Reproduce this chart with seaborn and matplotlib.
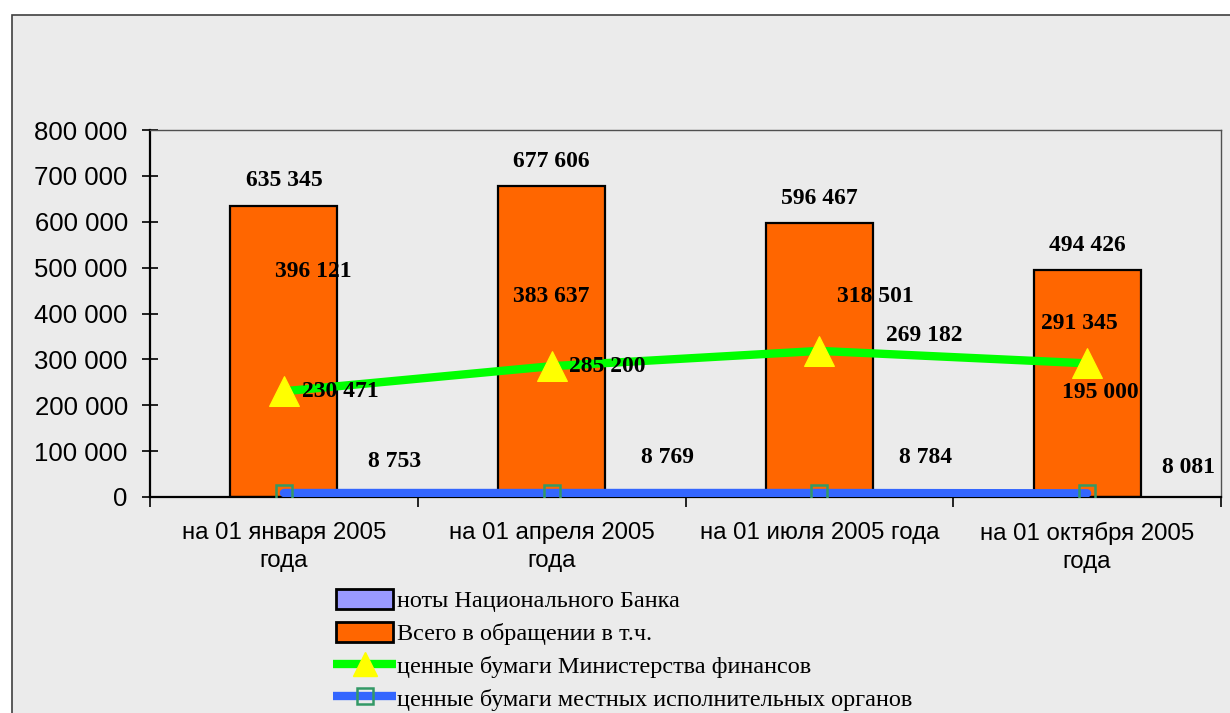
import numpy as np
import pandas as pd
import matplotlib
matplotlib.use('Agg')
import matplotlib.pyplot as plt
import seaborn as sns
from matplotlib.patches import Rectangle, Patch
from matplotlib.lines import Line2D
from matplotlib.legend_handler import HandlerPatch
from matplotlib.ticker import FuncFormatter, FixedLocator

# Data
dates = ['на 01 января 2005\nгода', 'на 01 апреля 2005\nгода',
         'на 01 июля 2005 года', 'на 01 октября 2005\nгода']
total = [635345, 677606, 596467, 494426]
notes_nb = [396121, 383637, 269182, 195000]
minfin = [230471, 285200, 318501, 291345]
local = [8753, 8769, 8784, 8081]

series_names = ['ноты Национального Банка', 'Всего в обращении в т.ч.',
                'ценные бумаги Министерства финансов',
                'ценные бумаги местных исполнительных органов']

# label offsets in pixels (dx, dy) relative to each point
total_off = [(0, 25)] * 4
notes_off = [(29, 44), (0, 25), (105, 38), (13, 15)]
minfin_off = [(56, 0), (56, 0), (56, 54), (-8, 40)]
local_off = [(111, 31), (116, 35), (106, 35), (101, 26)]

sns.set_style('white')
plt.rcParams['font.family'] = ['Liberation Sans', 'DejaVu Sans']
plt.rcParams['text.color'] = 'black'

fig = plt.figure(figsize=(12.3, 7.13), dpi=100)
fig.patch.set_facecolor('white')
# backdrop of the chart area
fig.patches.append(Rectangle((12 / 1230, -0.01), 1.02, 1 - 15 / 713 + 0.01,
                             transform=fig.transFigure, facecolor='#ebebeb',
                             edgecolor='#404040', lw=1.2, zorder=-5))

ax = fig.add_axes([150 / 1230, 1 - 497 / 713, 1071 / 1230, 367 / 713])
ax.set_facecolor('none')

df = pd.DataFrame({'date': dates, 'total': total})
sns.barplot(data=df, x='date', y='total', ax=ax, color='#FF6600',
            saturation=1, width=0.4, edgecolor='black', linewidth=1.6,
            zorder=2)

sns.lineplot(x=dates, y=minfin, ax=ax, sort=False, color='#00FF00', lw=6,
             marker='^', markersize=21, markerfacecolor='#FFFF00',
             markeredgecolor='#FFFF00', zorder=4)
sns.lineplot(x=dates, y=local, ax=ax, sort=False, color='#3366FF', lw=6,
             marker='s', markersize=12, markerfacecolor='none',
             markeredgecolor='#339966', markeredgewidth=1.8, zorder=4)

ax.set_xlim(-0.5, 3.5)
ax.set_ylim(0, 800000)
ax.set_yticks(np.arange(0, 800001, 100000))
ax.yaxis.set_major_formatter(FuncFormatter(lambda v, p: f'{int(v):,}'.replace(',', ' ')))
ax.tick_params(axis='y', direction='inout', length=12, width=1.2,
               labelsize=18.5, pad=10, colors='black', left=True)
ax.tick_params(axis='x', which='major', length=0, labelsize=17.3, pad=18,
               colors='black')
ax.xaxis.set_minor_locator(FixedLocator([-0.5, 0.5, 1.5, 2.5, 3.5]))
ax.tick_params(axis='x', which='minor', direction='out', length=7, width=1.2,
               bottom=True, color='black')
ax.set_xlabel('')
ax.set_ylabel('')
for lab in ax.get_xticklabels():
    lab.set_multialignment('center')
    lab.set_linespacing(1.35)

for side in ['left', 'bottom']:
    ax.spines[side].set_color('black')
    ax.spines[side].set_linewidth(1.6)
for side in ['top', 'right']:
    ax.spines[side].set_visible(True)
    ax.spines[side].set_color('#505050')
    ax.spines[side].set_linewidth(1.0)

lab_font = dict(family='Liberation Serif', fontweight='bold', fontsize=17,
                ha='center', va='center', color='black', zorder=6)


def put_labels(values, offsets):
    for i, (v, (dx, dy)) in enumerate(zip(values, offsets)):
        ax.annotate(f'{v:,}'.replace(',', ' '), (i, v), xytext=(dx, dy),
                    textcoords='offset pixels', **lab_font)


put_labels(total, total_off)
put_labels(notes_nb, notes_off)
put_labels(minfin, minfin_off)
put_labels(local, local_off)


def small_box(legend, orig_handle, xdescent, ydescent, width, height, fontsize):
    return Rectangle((-xdescent + 2.5, -ydescent), width - 5, height)


handles = [
    Patch(facecolor='#9999FF', edgecolor='black', lw=2),
    Patch(facecolor='#FF6600', edgecolor='black', lw=2),
    Line2D([], [], color='#00FF00', lw=6, marker='^', markersize=17,
           markerfacecolor='#FFFF00', markeredgecolor='#FFFF00',
           solid_capstyle='butt'),
    Line2D([], [], color='#3366FF', lw=6, marker='s', markersize=11,
           markerfacecolor='none', markeredgecolor='#339966',
           markeredgewidth=1.8, solid_capstyle='butt'),
]
fig.legend(handles, series_names, loc='upper left',
           bbox_to_anchor=(333 / 1230, 1 - 589 / 713), frameon=False,
           prop=dict(family='Liberation Serif', size=17.5),
           handlelength=2.6, handleheight=0.9, handletextpad=0.05,
           labelspacing=0.38, borderaxespad=0, borderpad=0,
           handler_map={Patch: HandlerPatch(patch_func=small_box)})

fig.savefig('out.png', dpi=100)
